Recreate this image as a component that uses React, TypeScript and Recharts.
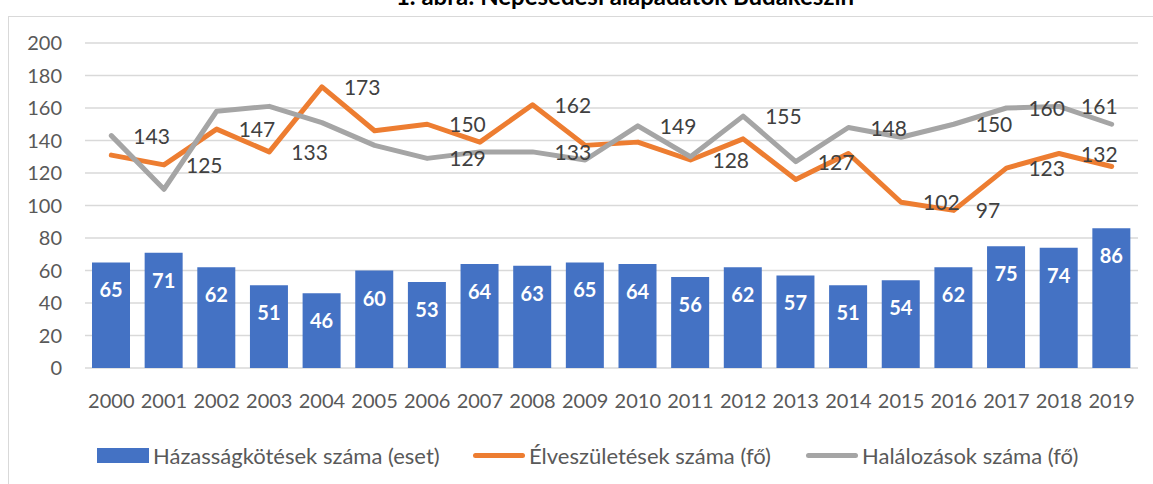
import React from 'react';
import { ComposedChart, Bar, Line, XAxis, YAxis, CartesianGrid, LabelList } from 'recharts';

const years = ['2000', '2001', '2002', '2003', '2004', '2005', '2006', '2007', '2008', '2009',
  '2010', '2011', '2012', '2013', '2014', '2015', '2016', '2017', '2018', '2019'];
const marriages = [65, 71, 62, 51, 46, 60, 53, 64, 63, 65, 64, 56, 62, 57, 51, 54, 62, 75, 74, 86];
const births = [131, 125, 147, 133, 173, 146, 150, 139, 162, 137, 139, 128, 141, 116, 132, 102, 97, 123, 132, 124];
const deaths = [143, 110, 158, 161, 151, 137, 129, 133, 133, 128, 149, 130, 155, 127, 148, 142, 150, 160, 161, 150];
// the original only shows some of the line labels
const birthLabelYears = ['2001', '2002', '2003', '2004', '2006', '2008', '2011', '2015', '2016', '2017', '2018'];
const deathLabelYears = ['2000', '2006', '2008', '2010', '2012', '2013', '2014', '2016', '2017', '2018'];
const yTicks = [0, 20, 40, 60, 80, 100, 120, 140, 160, 180, 200];

const FONT = "Lato, 'Open Sans', sans-serif";

const chartData = years.map((year, i) => ({
  year,
  marriages: marriages[i],
  births: births[i],
  deaths: deaths[i],
  birthLabel: birthLabelYears.includes(year) ? births[i] : null,
  deathLabel: deathLabelYears.includes(year) ? deaths[i] : null,
}));

const BarLabel = (props: any) => {
  const { x, y, width, value } = props;
  return (
    <text x={x + width / 2} y={y + 35} textAnchor="middle" fill="#ffffff"
      fontSize={20} fontWeight="bold" fontFamily={FONT}>
      {value}
    </text>
  );
};

const LineLabel = (props: any) => {
  const { x, y, value } = props;
  if (value == null) return null;
  return (
    <text x={x + 22} y={y + 8} textAnchor="start" fill="#404040" fontSize={21} fontFamily={FONT}>
      {value}
    </text>
  );
};

const legendItems = [
  { name: 'Házasságkötések száma (eset)', color: '#4472c4', type: 'rect', left: 97 },
  { name: 'Élveszületések száma (fő)', color: '#ed7d31', type: 'line', left: 473 },
  { name: 'Halálozások száma (fő)', color: '#a5a5a5', type: 'line', left: 806 },
];

export default function App() {
  return (
    <div style={{ position: 'absolute', left: 0, top: 0, width: 1153, height: 484, overflow: 'hidden', background: '#fff', fontFamily: FONT }}>
      <div style={{ position: 'absolute', left: 8, top: 16, width: 1170, height: 500, border: '1.5px solid #d9d9d9' }} />
      <svg width={1153} height={30} style={{ position: 'absolute', left: 0, top: 0 }}>
        <text x={625} y={5} textAnchor="middle" fontSize={24} fontWeight="bold" fill="#000" fontFamily={FONT}>
          1. ábra: Népesedési alapadatok Budakeszin
        </text>
      </svg>
      <div style={{ position: 'absolute', left: 0, top: 0 }}>
        <ComposedChart width={1153} height={484} data={chartData}
          margin={{ top: 43, right: 15, bottom: 66, left: 0 }}>
          <CartesianGrid vertical={false} stroke="#d9d9d9" strokeWidth={1.5} />
          <XAxis dataKey="year" interval={0} axisLine={false} tickLine={false} tickMargin={20} height={50}
            tick={{ fill: '#595959', fontSize: 20, fontFamily: FONT }} />
          <YAxis domain={[0, 200]} ticks={yTicks} width={85} axisLine={false} tickLine={false} tickMargin={17}
            tick={{ fill: '#595959', fontSize: 20, fontFamily: FONT }} />
          <Bar dataKey="marriages" fill="#4472c4" barSize={38} isAnimationActive={false}>
            <LabelList dataKey="marriages" content={BarLabel} />
          </Bar>
          <Line dataKey="births" type="linear" stroke="#ed7d31" strokeWidth={5} dot={false}
            strokeLinejoin="round" strokeLinecap="round" isAnimationActive={false}>
            <LabelList dataKey="birthLabel" content={LineLabel} />
          </Line>
          <Line dataKey="deaths" type="linear" stroke="#a5a5a5" strokeWidth={5} dot={false}
            strokeLinejoin="round" strokeLinecap="round" isAnimationActive={false}>
            <LabelList dataKey="deathLabel" content={LineLabel} />
          </Line>
        </ComposedChart>
      </div>
      {legendItems.map((item) => (
        <div key={item.name} style={{ position: 'absolute', left: item.left, top: 441, height: 28, display: 'flex', alignItems: 'center' }}>
          {item.type === 'rect' ? (
            <div style={{ width: 52, height: 15, background: item.color, marginRight: 4 }} />
          ) : (
            <div style={{ width: 52, height: 5, borderRadius: 3, background: item.color, marginRight: 4 }} />
          )}
          <span style={{ fontSize: 22, color: '#595959', whiteSpace: 'nowrap' }}>{item.name}</span>
        </div>
      ))}
    </div>
  );
}
